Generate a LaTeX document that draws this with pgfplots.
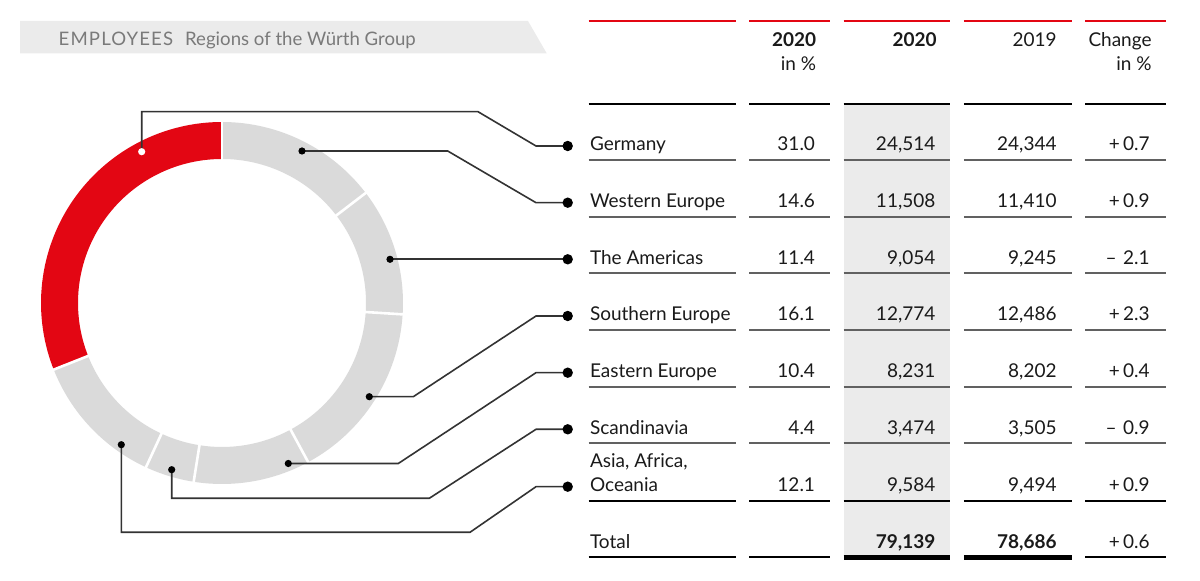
\documentclass[border=0pt]{standalone}
\usepackage{pgfplots}
\pgfplotsset{compat=1.18}
\usepackage{pgfplotstable}
\usepackage{fontspec}
\setmainfont{Lato}
\definecolor{wred}{HTML}{E30613}
\definecolor{ringgrey}{HTML}{DADADA}
\definecolor{bandgrey}{HTML}{EBEBEB}
\definecolor{titlegrey}{HTML}{7A7A7A}
\definecolor{linegrey}{HTML}{333333}
\definecolor{txt}{HTML}{1A1A1A}

\pgfplotstableread{
region pct
Germany 31.0
WesternEurope 14.6
TheAmericas 11.4
SouthernEurope 16.1
EasternEurope 10.4
Scandinavia 4.4
AsiaAfricaOceania 12.1
}\regiondata

\newcommand\tf{\fontsize{9.5}{11}\selectfont\color{txt}}

\begin{document}
\begin{tikzpicture}
\begin{axis}[x=0.5pt, y=0.5pt, xmin=0, xmax=1200, ymin=0, ymax=581,
  y dir=reverse, hide axis, clip=false, scale only axis]
\path (axis cs:0,0) rectangle (axis cs:1200,581);

% title band
\fill[bandgrey] (axis cs:20,21) -- (axis cs:528,21) -- (axis cs:546.7,53.3) -- (axis cs:20,53.3) -- cycle;
\node[anchor=base west, inner sep=0pt, text=titlegrey, font=\fontsize{9.3}{11}\selectfont] at (axis cs:58.3,45.7)
  {{\addfontfeatures{LetterSpace=6}EMPLOYEES}\hspace{6pt}Regions of the Würth Group};

% donut
\pgfplotstablegetelem{0}{pct}\of\regiondata
\pgfmathsetmacro\curang{90+3.6*\pgfplotsretval}
\let\startang\curang
\pgfplotsforeachungrouped \i in {0,...,6}{%
  \pgfplotstablegetelem{\i}{pct}\of\regiondata
  \pgfmathsetmacro\nextang{\curang-3.6*\pgfplotsretval}%
  \ifnum\i=0 \def\segcol{wred}\else\def\segcol{ringgrey}\fi
  \pgfmathsetmacro\xa{222+181*cos(\curang)}%
  \pgfmathsetmacro\ya{303-181*sin(\curang)}%
  \pgfmathsetmacro\xb{222+144*cos(\nextang)}%
  \pgfmathsetmacro\yb{303-144*sin(\nextang)}%
  \edef\temp{\noexpand\fill[\segcol] (axis cs:\xa,\ya) arc[start angle=\curang, end angle=\nextang, radius=90.5pt] -- (axis cs:\xb,\yb) arc[start angle=\nextang, end angle=\curang, radius=72pt] -- cycle;}%
  \temp
  \let\curang\nextang
}
\let\curang\startang
\pgfplotsforeachungrouped \i in {0,...,6}{%
  \pgfplotstablegetelem{\i}{pct}\of\regiondata
  \pgfmathsetmacro\nextang{\curang-3.6*\pgfplotsretval}%
  \pgfmathsetmacro\xa{222+140*cos(\curang)}%
  \pgfmathsetmacro\ya{303-140*sin(\curang)}%
  \pgfmathsetmacro\xb{222+185*cos(\curang)}%
  \pgfmathsetmacro\yb{303-185*sin(\curang)}%
  \edef\temp{\noexpand\draw[white, line width=1.3pt] (axis cs:\xa,\ya) -- (axis cs:\xb,\yb);}%
  \temp
  \let\curang\nextang
}

% grey column background
\fill[bandgrey] (axis cs:843.5,104.3) rectangle (axis cs:950.4,557.3);

% header rules
\foreach \a/\b in {588.5/735.8, 749.2/830, 843.5/950.4, 963.8/1071.5, 1085/1165.8}{
  \edef\temp{\noexpand\draw[wred, line width=1pt] (axis cs:\a,21) -- (axis cs:\b,21);
  \noexpand\draw[black, line width=1.2pt] (axis cs:\a,104.3) -- (axis cs:\b,104.3);}\temp
}
% header text
\node[anchor=base east, inner sep=0pt, font=\tf\bfseries] at (axis cs:816.5,46.7) {2020};
\node[anchor=base east, inner sep=0pt, font=\tf] at (axis cs:816.5,71) {in \%};
\node[anchor=base east, inner sep=0pt, font=\tf\bfseries] at (axis cs:937,46.7) {2020};
\node[anchor=base east, inner sep=0pt, font=\tf] at (axis cs:1057,46.7) {2019};
\node[anchor=base east, inner sep=0pt, font=\tf] at (axis cs:1152,46.7) {Change};
\node[anchor=base east, inner sep=0pt, font=\tf] at (axis cs:1152,71) {in \%};

% row rules
\foreach \y in {160, 216.7, 273.3, 330, 386.7, 443.3}{
 \foreach \a/\b in {588.5/735.8, 749.2/830, 843.5/950.4, 963.8/1071.5, 1085/1165.8}{
  \edef\temp{\noexpand\draw[black!62, line width=0.9pt] (axis cs:\a,\y) -- (axis cs:\b,\y);}\temp
 }
}
\foreach \a/\b in {588.5/735.8, 749.2/830, 843.5/950.4, 963.8/1071.5, 1085/1165.8}{
  \edef\temp{\noexpand\draw[black, line width=1.1pt] (axis cs:\a,501) -- (axis cs:\b,501);}\temp
}
\foreach \a/\b in {588.5/735.8, 749.2/830, 1085/1165.8}{
  \edef\temp{\noexpand\draw[black, line width=1.1pt] (axis cs:\a,557.3) -- (axis cs:\b,557.3);}\temp
}
\foreach \a/\b in {843.5/950.4, 963.8/1071.5}{
  \edef\temp{\noexpand\draw[black, line width=2.5pt] (axis cs:\a,557.3) -- (axis cs:\b,557.3);}\temp
}

% rows
\newcommand\trow[6]{%
  \node[anchor=base west, inner sep=0pt, font=\tf] at (axis cs:589.6,#1) {#2};
  \node[anchor=base east, inner sep=0pt, font=\tf] at (axis cs:815.4,#1) {#3};
  \node[anchor=base east, inner sep=0pt, font=\tf] at (axis cs:935.8,#1) {#4};
  \node[anchor=base east, inner sep=0pt, font=\tf] at (axis cs:1057,#1) {#5};
  \node[anchor=base east, inner sep=0pt, font=\tf] at (axis cs:1150,#1) {#6};
}
\trow{151}{Germany}{31.0}{24,514}{24,344}{+\,0.7}
\trow{207.7}{Western Europe}{14.6}{11,508}{11,410}{+\,0.9}
\trow{264.3}{The Americas}{11.4}{9,054}{9,245}{–\,\,2.1}
\trow{321}{Southern Europe}{16.1}{12,774}{12,486}{+\,2.3}
\trow{377.7}{Eastern Europe}{10.4}{8,231}{8,202}{+\,0.4}
\trow{434.3}{Scandinavia}{4.4}{3,474}{3,505}{–\,\,0.9}
\trow{491.7}{Oceania}{12.1}{9,584}{9,494}{+\,0.9}
\node[anchor=base west, inner sep=0pt, font=\tf] at (axis cs:589.6,467.7) {Asia, Africa,};
\node[anchor=base west, inner sep=0pt, font=\tf] at (axis cs:589.6,548.3) {Total};
\node[anchor=base east, inner sep=0pt, font=\tf\bfseries] at (axis cs:935.8,548.3) {79,139};
\node[anchor=base east, inner sep=0pt, font=\tf\bfseries] at (axis cs:1057,548.3) {78,686};
\node[anchor=base east, inner sep=0pt, font=\tf] at (axis cs:1150,548.3) {+\,0.6};

% leader lines
\begin{scope}[linegrey, line width=0.8pt]
\draw (axis cs:141.7,151.7) -- (axis cs:141.7,111.7) -- (axis cs:478,111.7) -- (axis cs:536,146) -- (axis cs:567.7,146);
\draw (axis cs:302,151) -- (axis cs:447.7,151) -- (axis cs:536,202.7) -- (axis cs:567.7,202.7);
\draw (axis cs:390,259.3) -- (axis cs:567.7,259.3);
\draw (axis cs:369.3,396.7) -- (axis cs:413.3,396.7) -- (axis cs:536,316) -- (axis cs:567.7,316);
\draw (axis cs:288.3,463.5) -- (axis cs:398.3,463.5) -- (axis cs:536,372.7) -- (axis cs:567.7,372.7);
\draw (axis cs:171.7,469.7) -- (axis cs:171.7,498.3) -- (axis cs:429.3,498.3) -- (axis cs:536,429.3) -- (axis cs:567.7,429.3);
\draw (axis cs:121.3,444.7) -- (axis cs:121.3,532.3) -- (axis cs:470,532.3) -- (axis cs:536,486.7) -- (axis cs:567.7,486.7);
\end{scope}
% dots
\fill[white] (axis cs:141.7,151.7) circle[radius=1.8pt];
\foreach \x/\y in {302/151, 390/259.3, 369.3/396.7, 288.3/463.5, 171.7/469.7, 121.3/444.7}{
  \edef\temp{\noexpand\fill[black] (axis cs:\x,\y) circle[radius=1.8pt];}\temp
}
\foreach \y in {146, 202.7, 259.3, 316, 372.7, 429.3, 486.7}{
  \edef\temp{\noexpand\fill[black] (axis cs:567.7,\y) circle[radius=2.6pt];}\temp
}
\end{axis}
\end{tikzpicture}
\end{document}
